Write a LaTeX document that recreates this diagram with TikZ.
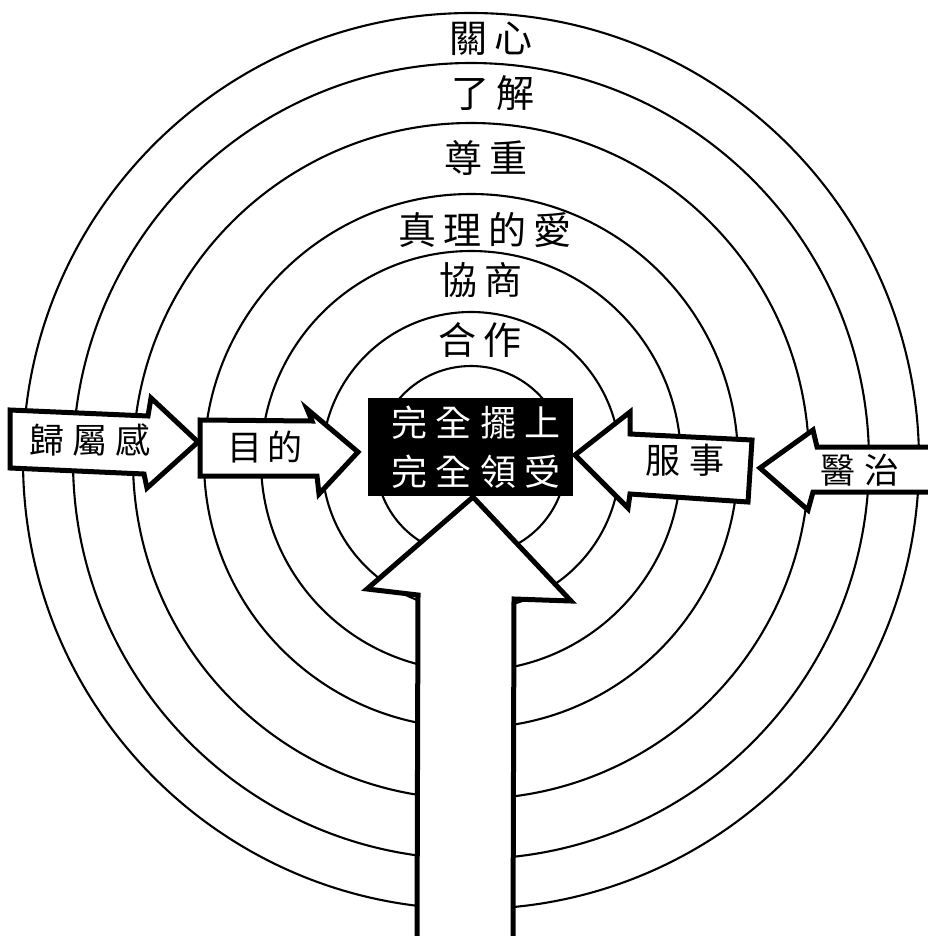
\documentclass[tikz,border=0pt]{standalone}
\usepackage{fontspec}
\newfontfamily\cjk{Noto Sans CJK TC}
\newcommand\lsp[1]{\addfontfeature{LetterSpace=#1}}
\begin{document}
\begin{tikzpicture}[x=1pt,y=-1pt,
  ring/.style={line width=2.1pt},
  blockarrow/.style={draw=black, fill=white, line width=5pt, line join=miter, miter limit=5},
  lbl/.style={inner sep=0pt, font=\cjk\fontsize{38}{40}\selectfont},
  arrlbl/.style={inner sep=0pt, font=\cjk\fontsize{35}{38}\selectfont},
  boxlbl/.style={inner sep=0pt, text=white, font=\cjk\fontsize{36}{38}\selectfont}]
\useasboundingbox (0,0) rectangle (927,936);
\fill[white] (0,0) rectangle (927,936);
\coordinate (c) at (471,461);
% concentric rings
\foreach \r in {448,398,338,267,210,149,95}
  \draw[ring] (c) circle[radius=\r pt];
% big upward arrow
\draw[blockarrow] (417,940) -- (418,595) -- (367,589) -- (473,497) -- (571,601) -- (514,599) -- (513,940);
% small arrows
\draw[blockarrow] (10,410) -- (148,416) -- (151,398) -- (198,442) -- (147,488) -- (144,474) -- (10,468) -- cycle;
\draw[blockarrow] (200,420) -- (312,421) -- (307,409) -- (358,452) -- (319,494) -- (317,476) -- (200,476) -- cycle;
\draw[blockarrow] (575,455) -- (630,412) -- (630,434) -- (752,440) -- (748,502) -- (630,494) -- (628,508) -- cycle;
\draw[blockarrow] (760,468) -- (813,430) -- (817,447) -- (940,447) -- (940,492) -- (813,492) -- (808,510) -- cycle;
% central black box
\fill[black] (368,398) rectangle (573,496);
\node[boxlbl] (b1) at (476,423) {\lsp{24}完全擺上};
\node[boxlbl] (b2) at (476,472) {\lsp{24}完全領受};
% ring labels
\node[lbl] (t1) at (491,39) {\lsp{18}關心};
\node[lbl] (t2) at (493,93) {\lsp{18}了解};
\node[lbl] (t3) at (486,158) {\lsp{18}尊重};
\node[lbl] (t4) at (485,230) {\lsp{18}真理的愛};
\node[lbl] (t5) at (481,280) {\lsp{18}協商};
\node[lbl] (t6) at (480,340) {\lsp{18}合作};
% arrow labels
\node[arrlbl] (a1) at (90,440) {\lsp{24}歸屬感};
\node[arrlbl] (a2) at (265,447) {\lsp{16}目的};
\node[arrlbl] (a3) at (685,460) {\lsp{28}服事};
\node[arrlbl] (a4) at (860,470) {\lsp{28}醫治};
\end{tikzpicture}
\end{document}
